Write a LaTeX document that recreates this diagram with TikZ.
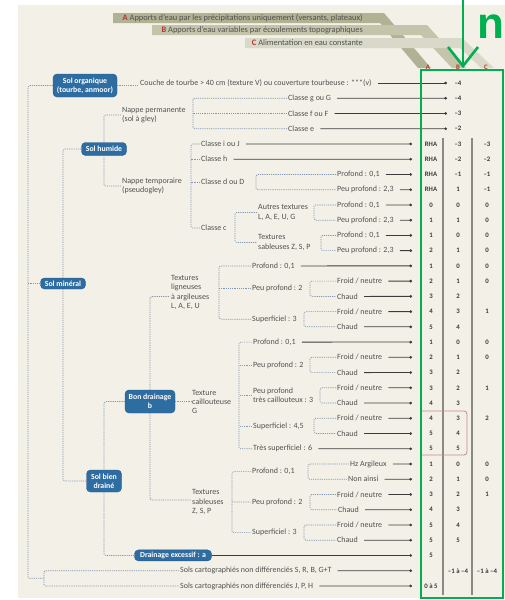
\documentclass[tikz,border=0pt]{standalone}
\usepackage{fontspec}
\setmainfont{Carlito}
\newfontfamily\nfont{Liberation Sans}
\usetikzlibrary{arrows.meta}
\definecolor{bgc}{HTML}{F3F1E7}
\definecolor{nodec}{HTML}{2E6DA2}
\definecolor{nodeb}{HTML}{24598A}
\definecolor{dlc}{HTML}{8496B0}
\definecolor{slc}{HTML}{3C3C3C}
\definecolor{txc}{HTML}{505050}
\definecolor{valc}{HTML}{3A3A3A}
\definecolor{glc}{HTML}{8A8A82}
\definecolor{redc}{HTML}{C58A86}
\definecolor{grc}{HTML}{00B050}
\definecolor{bandA}{HTML}{B0B293}
\definecolor{bandB}{HTML}{C3C4AA}
\definecolor{bandC}{HTML}{D8D9C8}
\definecolor{letc}{HTML}{B5352F}
\newcommand{\lblfont}{\fontsize{8}{9.2}\selectfont}
\newcommand{\bandfont}{\fontsize{8.4}{9}\selectfont}
\newcommand{\ndfont}{\bfseries\fontsize{7.8}{9}\selectfont}
\newcommand{\valfont}{\bfseries\fontsize{6.8}{8}\selectfont}
\begin{document}
\begin{tikzpicture}[x=1pt,y=-1pt,
  dl/.style={draw=dlc, line width=0.7pt, dash pattern=on 1.2pt off 1pt, rounded corners=1.5pt},
  sl/.style={draw=slc, line width=0.8pt, -{Circle[length=2.6pt]}},
  lbl/.style={anchor=west, inner sep=1pt, font=\lblfont, text=txc, align=left},
  bnode/.style={fill=nodec, draw=nodeb, line width=0.4pt, rounded corners=4pt, text=white, font=\ndfont, inner sep=1pt, align=center},
  val/.style={font=\valfont, text=valc, inner sep=0pt},
  band/.style={anchor=east, inner sep=0pt, font=\bandfont, text=txc}]
\useasboundingbox (0,0) rectangle (505,600);
\fill[bgc] (18,5) rectangle (505,598);
% header bands
\fill[bandA] (113,13) -- (384,13) -- (431,68) -- (418,68) -- (380,23) -- (113,23) -- cycle;
\fill[bandB] (152,25) -- (427,25) -- (466,68) -- (452,68) -- (421,35) -- (152,35) -- cycle;
\fill[bandC] (245,38) -- (462,38) -- (494,68) -- (481,68) -- (460,48) -- (245,48) -- cycle;
\node[band] (hA) at (363,18) {\textcolor{letc}{\bfseries A} Apports d'eau par les précipitations uniquement (versants, plateaux)};
\node[band] (hB) at (363,30.5) {\textcolor{letc}{\bfseries B} Apports d'eau variables par écoulements topographiques};
\node[band] (hC) at (363,43) {\textcolor{letc}{\bfseries C} Alimentation en eau constante};
\node[val, text=letc] (cA) at (428,67) {A};
\node[val, text=letc] (cB) at (458,67) {B};
\node[val, text=letc] (cC) at (486,67) {C};

% main nodes
\node[bnode, minimum width=64pt, minimum height=23pt] (org) at (85,85.5) {Sol organique\\(tourbe, anmoor)};
\node[bnode, minimum width=45pt, minimum height=13pt] (hum) at (104,149) {Sol humide};
\node[bnode, minimum width=45pt, minimum height=11pt] (min) at (63,283.5) {Sol minéral};
\node[bnode, minimum width=50pt, minimum height=23pt] (bon) at (150,401.5) {Bon drainage\\b};
\node[bnode, minimum width=35pt, minimum height=22pt] (bien) at (104,481) {Sol bien\\drainé};
\node[bnode, minimum width=77pt, minimum height=11pt] (exc) at (173,555.4) {Drainage excessif : a};

% intermediate texts
\node[lbl] (npt) at (121,115) {Nappe permanente\\(sol à gley)};
\node[lbl] (ntp) at (121,186) {Nappe temporaire\\(pseudogley)};
\node[lbl] (cd) at (200,182) {Classe d ou D};
\node[lbl] (cc) at (200,228) {Classe c};
\node[lbl] (at) at (257,212.5) {Autres textures\\L, A, E, U, G};
\node[lbl] (ts) at (257,242.5) {Textures\\sableuses Z, S, P};
\node[lbl] (tlig) at (170,292.5) {Textures\\ligneuses\\à argileuses\\L, A, E, U};
\node[lbl] (lpp) at (251,288.7) {Peu profond : 2};
\node[lbl] (lsu) at (251,319.2) {Superficiel : 3};
\node[lbl] (tcai) at (191,402) {Texture\\caillouteuse\\G};
\node[lbl] (cpp) at (252,365) {Peu profond : 2};
\node[lbl] (ctc) at (252,395.4) {Peu profond\\très caillouteux : 3};
\node[lbl] (csu) at (252,425.9) {Superficiel : 4,5};
\node[lbl] (tsab) at (191,502) {Textures\\sableuses\\Z, S, P};
\node[lbl] (spr) at (251,471.6) {Profond : 0,1};
\node[lbl] (spp) at (251,502.1) {Peu profond : 2};
\node[lbl] (ssu) at (251,532.6) {Superficiel : 3};

% leaf labels
\node[lbl] (L0) at (139,83) {Couche de tourbe > 40 cm (texture V) ou couverture tourbeuse : ***(v)};
\node[lbl] (L1) at (287,98.2) {Classe g ou G};
\node[lbl] (L2) at (287,113.5) {Classe f ou F};
\node[lbl] (L3) at (287,128.7) {Classe e};
\node[lbl] (L4) at (200,144) {Classe i ou J};
\node[lbl] (L5) at (200,159.2) {Classe h};
\node[lbl] (L6) at (336,174.4) {Profond : 0,1};
\node[lbl] (L7) at (336,189.7) {Peu profond : 2,3};
\node[lbl] (L8) at (336,204.9) {Profond : 0,1};
\node[lbl] (L9) at (336,220.2) {Peu profond : 2,3};
\node[lbl] (L10) at (336,235.4) {Profond : 0,1};
\node[lbl] (L11) at (336,250.6) {Peu profond : 2,3};
\node[lbl] (L12) at (251,265.9) {Profond : 0,1};
\node[lbl] (L13) at (336,281.1) {Froid / neutre};
\node[lbl] (L14) at (336,296.4) {Chaud};
\node[lbl] (L15) at (336,311.6) {Froid / neutre};
\node[lbl] (L16) at (336,326.8) {Chaud};
\node[lbl] (L17) at (252,342.1) {Profond : 0,1};
\node[lbl] (L18) at (336,357.3) {Froid / neutre};
\node[lbl] (L19) at (336,372.6) {Chaud};
\node[lbl] (L20) at (336,387.8) {Froid / neutre};
\node[lbl] (L21) at (336,403) {Chaud};
\node[lbl] (L22) at (336,418.3) {Froid / neutre};
\node[lbl] (L23) at (336,433.5) {Chaud};
\node[lbl] (L24) at (252,448.8) {Très superficiel : 6};
\node[lbl] (L25) at (349,464) {Hz Argileux};
\node[lbl] (L26) at (347,479.2) {Non ainsi};
\node[lbl] (L27) at (336,494.5) {Froid / neutre};
\node[lbl] (L28) at (337,509.7) {Chaud};
\node[lbl] (L29) at (336,525) {Froid / neutre};
\node[lbl] (L30) at (336,540.2) {Chaud};
\node[lbl] (L32) at (179,570.7) {Sols cartographiés non différenciés S, R, B, G+T};
\node[lbl] (L33) at (179,586) {Sols cartographiés non différenciés J, P, H};

% bracket coordinates
\coordinate (tr) at (28,283.5);
\coordinate (cb) at (44,578.3);
\coordinate (bp) at (193,113.5);
\coordinate (bt) at (191,186);
\coordinate (bd) at (256,182);
\coordinate (bc) at (235,228);
\coordinate (ba) at (314,212.5);
\coordinate (bs) at (321,243);
\coordinate (bl) at (219,292.5);
\coordinate (b13) at (310,288.7);
\coordinate (b15) at (304,319.2);
\coordinate (bk) at (239,402);
\coordinate (b18) at (310,365);
\coordinate (b20) at (320,395.4);
\coordinate (b22) at (314,425.9);
\coordinate (bz) at (232,502);
\coordinate (b25) at (308,471.6);
\coordinate (b27) at (310,502.1);
\coordinate (b29) at (304,532.6);

% dashed tree
\draw[dl] (org.west) -| (28,578.3) -- (cb);
\draw[dl] (min.west) -- (tr);
\draw[dl] (L32.west) -| (cb) |- (L33.west);
\draw[dl] (org.east) -- (org.east -| L0.west);
\draw[dl] (hum.west) -| (min.north);
\draw[dl] (bien.west) -| (min.south);
\draw[dl] (npt.west) -| (hum.north);
\draw[dl] (ntp.west) -| (hum.south);
\draw[dl] (L1.west) -| (bp) |- (L3.west);
\draw[dl] (L2.west) -- (bp);
\draw[dl] (L4.west) -| (bt) |- (cc.west);
\draw[dl] (L5.west) -- (L5.west -| bt);
\draw[dl] (cd.west) -- (cd.west -| bt);
\draw[dl] (L6.west) -| (bd) |- (L7.west);
\draw[dl] (at.west) -| (bc) |- (ts.west);
\draw[dl] (L8.west) -| (ba) |- (L9.west);
\draw[dl] (L10.west) -| (bs) |- (L11.west);
\draw[dl] (bon.north) |- ([yshift=-4pt]tlig.west);
\draw[dl] (L12.west) -| (bl) |- (lsu.west);
\draw[dl] (lpp.west) -- (lpp.west -| bl);
\draw[dl] (L13.west) -| (b13) |- (L14.west);
\draw[dl] (L15.west) -| (b15) |- (L16.west);
\draw[dl] (bon.east) -- (bon.east -| tcai.west);
\draw[dl] (L17.west) -| (bk) |- (L24.west);
\draw[dl] (cpp.west) -- (cpp.west -| bk);
\draw[dl] (ctc.west) -- (ctc.west -| bk);
\draw[dl] (csu.west) -- (csu.west -| bk);
\draw[dl] (L18.west) -| (b18) |- (L19.west);
\draw[dl] (L20.west) -| (b20) |- (L21.west);
\draw[dl] (L22.west) -| (b22) |- (L23.west);
\draw[dl] (bon.south) |- ([yshift=2pt]tsab.west);
\draw[dl] (bon.west) -| (bien.north);
\draw[dl] (exc.west) -| (bien.south);
\draw[dl] (spr.west) -| (bz) |- (ssu.west);
\draw[dl] (spp.west) -- (bz);
\draw[dl] (L25.west) -| (b25) |- (L26.west);
\draw[dl] (L27.west) -| (b27) |- (L28.west);
\draw[dl] (L29.west) -| (b29) |- (L30.west);

% end dots and solid lines
\foreach \k in {0,...,3} \coordinate (d\k) at (447,{83+15.24*\k});
\foreach \k in {4,...,33} \coordinate (d\k) at (412,{83+15.24*\k});
\foreach \k in {0,...,30,32,33} \draw[sl] ([xshift=5pt]L\k.east) -- (d\k);
\draw[sl] (exc.east) -- (d31);

% values
\foreach \k/\a/\b/\c in {0//–4/, 1//–4/, 2//–3/, 3//–2/,
  4/RHA/–3/–3, 5/RHA/–2/–2, 6/RHA/–1/–1, 7/RHA/1/–1,
  8/0/0/0, 9/1/1/0, 10/1/0/0, 11/2/1/0,
  12/1/0/0, 13/2/1/0, 14/3/2/, 15/4/3/1, 16/5/4/,
  17/1/0/0, 18/2/1/0, 19/3/2/, 20/3/2/1, 21/4/3/, 22/4/3/2, 23/5/4/, 24/5/5/,
  25/1/0/0, 26/2/1/0, 27/3/2/1, 28/4/3/, 29/5/4/, 30/5/5/,
  31/5//, 32//–1 à –4/–1 à –4, 33/0 à 5//}{
  \node[val] at (431,{83+15.24*\k}) {\a};
  \node[val] at (458,{83+15.24*\k}) {\b};
  \node[val] at (487,{83+15.24*\k}) {\c};
}

% table lines
\draw[glc, line width=1.1pt] (443,138) -- (443,595);
\draw[glc, line width=1.1pt] (472,138) -- (472,595);
\draw[redc, line width=0.8pt, rounded corners=3pt] (421,411) -- (467,411) -- (467,455) -- (421,455);

% green frame and arrow
\draw[grc, line width=2.6pt] (421,70) rectangle (503,598);
\draw[grc, line width=2.6pt] (463,0) -- (463,64);
\draw[grc, line width=2.6pt, line join=miter] (448,47) -- (463,66) -- (478,47);
\node[anchor=east, inner sep=0pt, text=grc, font=\nfont\bfseries\fontsize{44}{44}\selectfont] (nn) at (505,26.5) {n};
\end{tikzpicture}
\end{document}
